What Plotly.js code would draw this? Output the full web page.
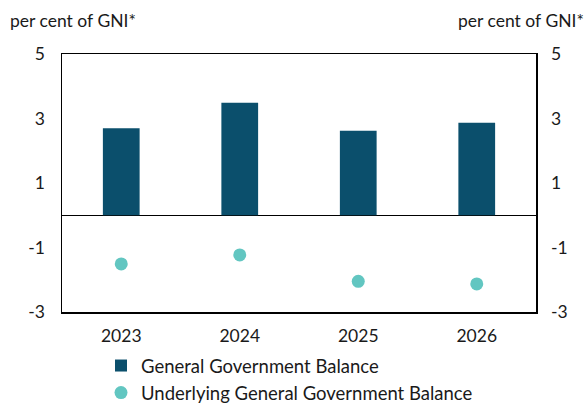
<!DOCTYPE html>
<html>
<head>
<meta charset="utf-8">
<script src="https://cdn.plot.ly/plotly-3.0.1.min.js"></script>
<style>html,body{margin:0;padding:0;background:#fff;}#chart{width:585px;height:405px;}</style>
</head>
<body>
<div id="chart"></div>
<script>
const years = ['2023', '2024', '2025', '2026'];
const generalBalance = [2.7, 3.49, 2.62, 2.87];
const underlyingBalance = [-1.51, -1.23, -2.05, -2.13];
const yTicks = [5, 3, 1, -1, -3];
const unitLabel = 'per cent of GNI*';

const font = {family: 'Lato, "Open Sans", sans-serif', color: '#1a1a1a', size: 17.5};

const traces = [
  {
    type: 'bar', x: years, y: generalBalance, name: 'General Government Balance',
    marker: {color: '#0b4f6c', line: {width: 0}}, width: 0.31, yaxis: 'y'
  },
  {
    type: 'scatter', mode: 'markers', x: years, y: underlyingBalance,
    name: 'Underlying General Government Balance',
    marker: {color: '#62c6c1', size: 13}, yaxis: 'y2'
  }
];

const layout = {
  width: 585, height: 405,
  margin: {l: 62, r: 49, t: 54, b: 93, autoexpand: false},
  paper_bgcolor: '#fff', plot_bgcolor: '#fff',
  font: font,
  showlegend: true,
  legend: {
    orientation: 'v', xref: 'paper', yref: 'paper',
    x: (101 - 62) / 474, y: -(347 - 312) / 258, xanchor: 'left', yanchor: 'top',
    font: {family: font.family, size: 18.5, color: '#1a1a1a'},
    itemwidth: 30, tracegroupgap: 0, bgcolor: 'rgba(0,0,0,0)'
  },
  xaxis: {
    type: 'category', showgrid: false, zeroline: false, automargin: false,
    showline: true, linecolor: '#000', linewidth: 1.5, mirror: true,
    ticks: '', ticklabelstandoff: 7, tickangle: 0, tickfont: {size: 17.5}
  },
  yaxis: {
    range: [-3, 5], tickvals: yTicks, ticktext: yTicks.map(String), automargin: false,
    showgrid: false, zeroline: true, zerolinecolor: '#000', zerolinewidth: 1.5,
    showline: true, linecolor: '#000', linewidth: 1.5, mirror: true,
    ticks: '', ticklabelstandoff: 12, tickfont: {size: 17.5}
  },
  yaxis2: {
    range: [-3, 5], tickvals: yTicks, ticktext: yTicks.map(String), automargin: false,
    overlaying: 'y', side: 'right', showgrid: false, zeroline: false,
    showline: false, ticks: '', ticklabelstandoff: 14, tickfont: {size: 17.5}
  },
  annotations: [
    {text: unitLabel, xref: 'paper', yref: 'paper', x: -54 / 474, y: 1 + 34 / 258,
     xanchor: 'left', yanchor: 'middle', showarrow: false, font: {size: 17.5}},
    {text: unitLabel, xref: 'paper', yref: 'paper', x: 1 + 50 / 474, y: 1 + 34 / 258,
     xanchor: 'right', yanchor: 'middle', showarrow: false, font: {size: 17.5}}
  ]
};

Plotly.newPlot('chart', traces, layout, {displayModeBar: false, staticPlot: true});
</script>
</body>
</html>
